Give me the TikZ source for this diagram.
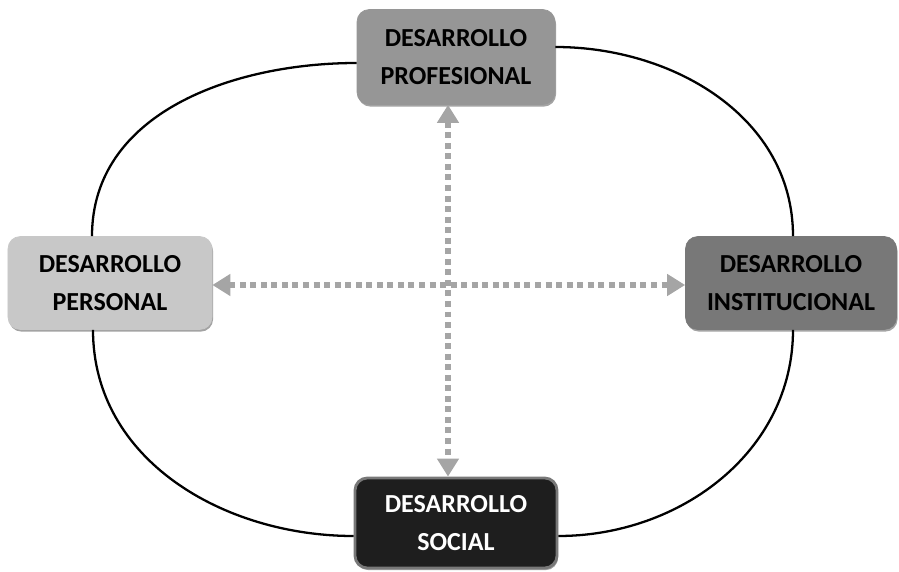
\documentclass[tikz,border=0pt]{standalone}
\usepackage{fontspec}
\setmainfont{Carlito}
\usepackage{tikz}
\usetikzlibrary{positioning,calc}
\usetikzlibrary{arrows.meta,shadows}
\definecolor{BoxLight}{RGB}{200,200,200}
\definecolor{BoxMid}{RGB}{150,150,150}
\definecolor{BoxDark}{RGB}{120,120,120}
\definecolor{BoxBlack}{RGB}{30,30,30}
\definecolor{LinkGray}{RGB}{165,165,165}
\tikzset{
  area/.style={rounded corners=7pt,align=center,inner sep=0pt,
    font=\fontsize{14.8}{21.2}\selectfont\bfseries,
    drop shadow={shadow xshift=0.6pt,shadow yshift=-1.2pt,fill=black!45,opacity=0.8}},
  loop/.style={draw=black,line width=1.3pt},
  link/.style={draw=LinkGray,line width=3.4pt,dash pattern=on 3.4pt off 2.6pt,
    {Triangle[length=0.36cm,width=0.42cm]}-{Triangle[length=0.36cm,width=0.42cm]}},
}

\begin{document}
\begin{tikzpicture}
\useasboundingbox (0,0) rectangle (17.98,-11.44);
% cuatro areas
\node[area,fill=BoxMid,draw=BoxMid,minimum width=3.96cm,minimum height=1.9cm] (prof) at (9.12,-1.14) {DESARROLLO\\PROFESIONAL};
\node[area,fill=BoxLight,draw=BoxLight,minimum width=4.08cm,minimum height=1.86cm] (pers) at (2.2,-5.66) {DESARROLLO\\PERSONAL};
\node[area,fill=BoxDark,draw=BoxDark,minimum width=4.22cm,minimum height=1.86cm] (inst) at (15.82,-5.66) {DESARROLLO\\INSTITUCIONAL};
\node[area,fill=BoxBlack,draw=BoxDark,line width=1.6pt,text=white,minimum width=4.04cm,minimum height=1.8cm] (soc) at (9.12,-10.46) {DESARROLLO\\SOCIAL};
% ciclo exterior
\draw[loop] ([yshift=0.2cm]prof.east) to[out=0,in=90] ([xshift=0.04cm]inst.north);
\draw[loop] ([yshift=-0.12cm]prof.west) to[out=180,in=90] ([xshift=-0.36cm]pers.north);
\draw[loop] ([xshift=-0.34cm]pers.south) to[out=-90,in=180] ([yshift=-0.26cm]soc.west);
\draw[loop] ([xshift=0.04cm]inst.south) to[out=-90,in=0] ([yshift=-0.26cm]soc.east);
% relaciones
\draw[link] ([xshift=-0.16cm]prof.south) -- ([xshift=-0.16cm]soc.north);
\draw[link] ([yshift=-0.04cm]pers.east) -- ([yshift=-0.04cm]inst.west);
\end{tikzpicture}
\end{document}
